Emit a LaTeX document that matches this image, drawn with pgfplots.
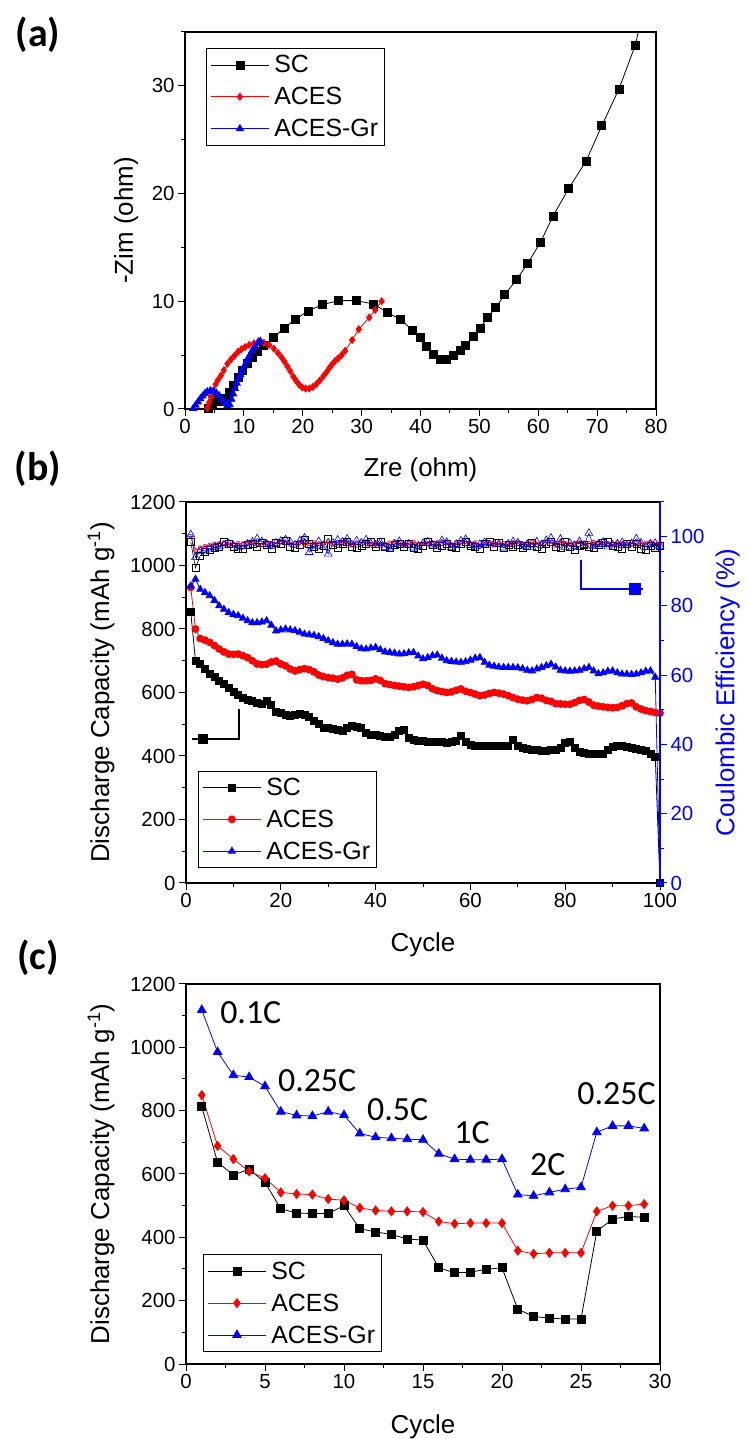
\documentclass[border=0pt]{standalone}
\usepackage{fontspec}
\usepackage{pgfplots}
\usepackage{pgfplotstable}
\pgfplotsset{compat=1.18}
\setmainfont{Liberation Sans}
\newfontfamily\calibri{Carlito}
\newcommand\ticks{\fontsize{20.5}{24}\selectfont}
\newcommand\lab{\fontsize{26}{30}\selectfont}
\newcommand\legf{\fontsize{25}{28}\selectfont}
\newcommand\rate{\calibri\fontsize{34}{36}\selectfont}
\newcommand\plab{\calibri\bfseries\fontsize{40}{42}\selectfont}

\pgfplotstableread{
x y
4.0 0.05
4.6 0.5
5.3 0.85
6.1 0.75
6.9 0.95
7.6 1.5
8.3 2.2
9.0 2.9
9.8 3.6
10.6 4.2
11.4 4.8
12.3 5.3
13.4 5.9
15.0 6.6
16.8 7.5
18.7 8.3
20.9 9.1
23.4 9.7
26.1 10.06
29.1 10.06
32.0 9.75
34.3 9.0
36.6 8.3
38.7 7.3
40.0 6.6
41.0 5.8
42.2 5.1
43.3 4.6
44.4 4.6
45.6 4.95
46.7 5.4
47.7 5.9
49.0 6.7
50.1 7.5
51.4 8.5
52.8 9.45
54.3 10.6
56.3 12.0
58.2 13.5
60.4 15.5
62.5 17.9
65.2 20.5
68.1 23.0
70.8 26.3
73.7 29.7
76.5 33.8
77.4 36.0
}\eisSC
\pgfplotstableread{
x y
3.8 0.1
4.1 0.6
4.4 1.1
4.8 1.7
5.2 2.3
5.6 2.7
6.1 3.1
6.6 3.6
7.2 4.2
7.8 4.6
8.4 4.95
9.0 5.3
9.6 5.55
10.2 5.75
10.9 5.95
11.7 6.1
12.5 6.3
13.4 6.15
14.3 5.95
15.1 5.6
15.8 5.2
16.4 4.8
16.9 4.4
17.4 3.95
17.9 3.5
18.4 3.0
18.9 2.6
19.4 2.25
19.9 2.0
20.5 1.9
21.1 1.9
21.7 2.05
22.3 2.3
22.9 2.65
23.5 3.05
24.0 3.4
24.5 3.8
25.0 4.15
25.5 4.45
26.0 4.7
26.6 5.0
27.2 5.4
28.4 6.4
29.5 7.4
31.3 8.5
32.3 9.2
33.4 10.0
}\eisACES
\pgfplotstableread{
x y
1.4 0.05
1.8 0.35
2.2 0.65
2.6 0.95
3.0 1.2
3.4 1.45
3.8 1.6
4.3 1.7
4.8 1.65
5.3 1.5
5.8 1.25
6.3 0.9
6.8 0.55
7.2 0.3
7.6 0.4
7.9 0.9
8.2 1.4
8.5 1.9
8.8 2.4
9.1 2.8
9.4 3.2
9.7 3.6
10.1 4.0
10.5 4.5
10.9 4.9
11.4 5.4
11.9 5.8
12.4 6.1
12.8 6.3
}\eisGR

\pgfplotstableread{
c sc aces gr cesc ceaces cegr
1 854 931 935 98.5 100.2 100.6
2 700 800 957 91.0 96.0 94.0
3 690 770 925 94.5 96.8 95.8
4 675 765 915 95.5 97.2 96.1
5 660 758 905 96.2 97.6 96.5
6 648 748 890 96.8 97.9 96.9
7 636 737 873 97.0 98.0 97.2
8 626 728 862 98.6 98.2 97.6
9 615 721 852 97.8 97.7 98.0
10 603 720 846 97.2 97.9 97.4
11 592 721 842 96.6 98.1 96.9
12 584 716 834 96.4 97.8 97.3
13 578 710 826 97.5 98.3 97.9
14 573 700 820 97.9 98.5 98.5
15 566 690 820 97.0 98.0 99.4
16 563 688 822 98.2 97.6 98.6
17 575 689 826 97.6 98.4 97.8
18 560 696 812 96.5 98.1 97.3
19 540 699 794 98.3 97.9 98.2
20 535 690 797 97.8 98.6 98.7
21 528 684 800 98.8 98.2 99.1
22 526 674 797 97.1 97.8 98.4
23 528 668 795 96.9 98.1 97.6
24 533 672 790 97.6 98.4 98.8
25 530 675 784 99.2 97.7 99.6
26 522 672 782 98.0 98.0 95.5
27 510 665 780 97.0 98.3 97.1
28 500 655 776 96.4 97.9 98.6
29 490 650 770 97.3 98.2 97.4
30 487 647 763 99.5 98.5 95.0
31 485 645 757 97.6 97.8 98.2
32 482 642 752 96.8 98.1 99.0
33 480 646 752 97.8 98.4 98.5
34 488 654 753 98.5 98.0 99.3
35 496 657 752 97.2 97.6 97.6
36 492 640 745 96.9 98.2 98.8
37 488 637 738 97.3 98.5 98.2
38 472 637 737 97.9 98.1 99.1
39 468 638 740 98.4 97.8 98.0
40 465 643 742 97.1 98.3 97.5
41 463 638 735 98.6 97.5 98.3
42 460 628 728 97.2 97.9 97.0
43 460 625 726 96.8 98.2 96.5
44 465 622 724 97.5 98.6 97.8
45 478 620 721 97.9 98.0 98.6
46 482 618 722 97.0 97.7 97.4
47 458 616 725 98.0 98.1 97.9
48 452 618 726 96.9 98.4 96.8
49 449 622 715 96.5 97.9 97.2
50 446 626 706 97.4 98.2 98.1
51 444 622 710 98.4 98.0 98.5
52 443 612 716 97.6 97.8 97.6
53 443 606 718 96.9 98.3 97.3
54 443 603 708 97.4 98.6 98.9
55 442 600 700 98.0 98.1 98.4
56 443 602 698 97.1 97.7 96.9
57 448 607 696 96.8 98.2 97.8
58 462 611 695 97.8 98.5 98.8
59 445 604 697 98.6 98.0 99.2
60 436 600 702 97.3 97.9 97.5
61 432 595 708 97.0 98.3 97.1
62 431 590 710 96.5 97.6 97.8
63 431 592 695 97.8 98.1 98.3
64 432 597 686 98.4 98.4 97.6
65 431 600 683 97.1 97.8 98.0
66 432 598 680 98.2 98.2 97.7
67 432 595 679 96.9 98.0 96.8
68 433 590 679 97.5 97.7 97.9
69 452 584 679 97.0 98.3 98.6
70 433 579 678 97.6 98.5 98.2
71 424 576 675 96.8 97.9 97.2
72 421 574 670 97.4 98.1 97.8
73 419 578 668 98.1 98.4 96.9
74 418 584 674 97.0 97.8 98.5
75 417 582 679 96.6 98.2 97.6
76 417 575 684 97.9 98.6 98.9
77 418 572 689 98.5 98.0 99.6
78 418 565 680 97.2 97.7 97.4
79 426 564 670 96.7 98.3 99.3
80 440 563 668 98.4 98.1 96.9
81 445 563 667 97.1 97.8 98.1
82 425 568 668 96.3 98.2 97.3
83 413 575 670 97.3 98.5 98.6
84 410 578 675 97.7 97.9 97.5
85 408 570 679 97.0 98.1 101.0
86 406 560 668 96.9 98.4 97.2
87 407 557 659 97.5 97.8 97.8
88 408 555 662 98.3 98.2 98.4
89 418 553 667 98.6 98.0 97.1
90 430 552 668 97.4 97.7 97.6
91 433 553 662 97.1 98.3 97.9
92 432 558 658 96.6 98.1 98.3
93 428 565 658 97.9 97.9 97.4
94 424 567 657 97.2 98.4 98.0
95 422 555 658 97.8 98.0 99.4
96 418 548 662 96.4 97.8 98.2
97 415 543 667 96.1 98.2 97.0
98 408 540 668 97.4 98.5 97.8
99 398 537 648 96.9 97.9 98.1
100 0 535 0 97.3 98.1 97.3
}\cyc

\pgfplotstableread{
c sc aces gr
1 812 849 1118
2 637 689 985
3 597 647 912
4 615 608 906
5 573 587 877
6 490 542 797
7 477 537 785
8 475 535 783
9 475 521 797
10 500 517 786
11 427 493 728
12 417 485 716
13 409 482 713
14 395 482 710
15 391 480 708
16 304 450 664
17 288 443 647
18 290 445 645
19 299 445 645
20 304 445 647
21 173 358 535
22 150 348 531
23 145 351 542
24 142 351 552
25 142 351 558
26 419 482 732
27 458 500 752
28 466 500 752
29 463 505 744
}\rates

\pgfplotsset{
  orig/.style={
    scale only axis,
    axis line style={line width=1.1bp},
    tick style={black, line width=1bp},
    tick align=outside,
    major tick length=7bp, minor tick length=4bp,
    xtick pos=bottom, ytick pos=left,
    tick label style={font=\ticks},
    label style={font=\lab},
    /pgf/number format/assume math mode=true,
    /pgf/number format/set thousands separator={},
    scaled ticks=false,
    legend cell align=left,
    legend style={draw=black, line width=1bp, font=\legf, inner xsep=4bp, inner ysep=5bp,
      row sep=9bp, fill=white, /tikz/every odd column/.append style={column sep=3bp}},
    legend image code/.code={\draw[##1, mark repeat=2, mark phase=2] plot coordinates {(0bp,0bp) (29bp,0bp) (58bp,0bp)};},
  },
  sq/.style={black, line width=0.8bp, mark=square*, mark size=3.5bp},
  di/.style={red, line width=0.8bp, mark=diamond*, mark size=3.5bp},
  ci/.style={red, line width=0.8bp, mark=*, mark size=3.5bp},
  tr/.style={blue, line width=0.8bp, mark=triangle*, mark size=4bp},
}

\begin{document}
\begin{tikzpicture}
\useasboundingbox (0bp,0bp) rectangle (748bp,1439bp);

\node[font=\plab] at (38bp,1404bp) {(a)};
\node[font=\plab] at (38bp,970bp) {(b)};
\node[font=\plab] at (38bp,481bp) {(c)};

% ---------- (a)
\begin{axis}[orig, at={(185bp,1030bp)}, anchor=south west,
  width=471bp, height=377bp,
  xmin=0, xmax=80, ymin=0, ymax=35,
  xtick={0,10,...,80}, minor xtick={5,15,...,75},
  ytick={0,10,20,30}, minor ytick={5,15,25,35},
  xlabel={Zre (ohm)}, ylabel={-Zim (ohm)},
  xlabel style={at={(axis description cs:0.5,-0.162)}, anchor=center},
  ylabel style={at={(axis description cs:-0.125,0.5)}, anchor=center},
  legend style={at={(0.0446,0.9576)}, anchor=north west}]
\addplot[sq, mark size=4bp] table[x=x,y=y] {\eisSC};
\addlegendentry{SC}
\addplot[di, mark size=3.5bp] table[x=x,y=y] {\eisACES};
\addlegendentry{ACES}
\addplot[tr] table[x=x,y=y] {\eisGR};
\addlegendentry{ACES-Gr}
\end{axis}

% ---------- (b) left
\begin{axis}[orig, at={(186bp,556bp)}, anchor=south west,
  width=474bp, height=381bp,
  xmin=0, xmax=100, ymin=0, ymax=1200,
  xtick={0,20,...,100}, minor xtick={10,30,...,90},
  ytick={0,200,...,1200}, minor ytick={100,300,...,1100},
  xlabel={Cycle}, ylabel={Discharge Capacity (mAh g\textsuperscript{-1})},
  xlabel style={at={(axis description cs:0.5,-0.163)}, anchor=center},
  ylabel style={at={(axis description cs:-0.179,0.5)}, anchor=center},
  legend style={at={(0.0253,0.039)}, anchor=south west}]
\addplot[sq] table[x=c,y=sc] {\cyc};
\addlegendentry{SC}
\addplot[ci] table[x=c,y=aces] {\cyc};
\addlegendentry{ACES}
\addplot[tr] table[x=c,y=gr] {\cyc};
\addlegendentry{ACES-Gr}
\addplot[black, line width=2bp, mark=square*, mark size=4bp, mark indices={3}, forget plot]
  coordinates {(11.1,548) (11.1,453) (3.5,453) (1.2,453)};
\addplot[blue, line width=2.5bp, mark=square*, mark size=4.5bp, mark indices={3}, forget plot]
  coordinates {(83.3,1017) (83.3,926) (94.7,926) (96.5,926)};
\end{axis}

% ---------- (b) right
\begin{axis}[scale only axis, at={(186bp,556bp)}, anchor=south west,
  width=474bp, height=381bp,
  xmin=0, xmax=100, ymin=0, ymax=110,
  axis x line=none, axis y line*=right,
  y axis line style={blue, line width=1.1bp},
  tick style={blue, line width=1bp}, tick align=outside,
  major tick length=7bp, minor tick length=4bp,
  ytick={0,20,...,100}, minor ytick={10,30,...,110},
  yticklabel style={font=\ticks, text=blue},
  /pgf/number format/assume math mode=true,
  ylabel={Coulombic Efficiency (\%)},
  ylabel style={font=\lab, text=blue, at={(axis description cs:1.143,0.5)}, anchor=center}]
\addplot[black, line width=0.6bp, mark=square, mark size=3.5bp] table[x=c,y=cesc] {\cyc};
\addplot[red, line width=0.6bp, mark=o, mark size=2bp] table[x=c,y=ceaces] {\cyc};
\addplot[blue, line width=0.6bp, mark=triangle, mark size=4.5bp] table[x=c,y=cegr] {\cyc};
\end{axis}

% ---------- (c)
\begin{axis}[orig, at={(186bp,75bp)}, anchor=south west,
  width=474bp, height=380bp,
  xmin=0, xmax=30, ymin=0, ymax=1200,
  xtick={0,5,...,30}, minor xtick={2.5,7.5,...,27.5},
  ytick={0,200,...,1200}, minor ytick={100,300,...,1100},
  xlabel={Cycle}, ylabel={Discharge Capacity (mAh g\textsuperscript{-1})},
  xlabel style={at={(axis description cs:0.5,-0.166)}, anchor=center},
  ylabel style={at={(axis description cs:-0.179,0.5)}, anchor=center},
  legend style={at={(0.036,0.0316)}, anchor=south west}]
\addplot[sq, mark size=4bp] table[x=c,y=sc] {\rates};
\addlegendentry{SC}
\addplot[di, mark size=4.5bp] table[x=c,y=aces] {\rates};
\addlegendentry{ACES}
\addplot[tr, mark size=5bp] table[x=c,y=gr] {\rates};
\addlegendentry{ACES-Gr}
\node[font=\rate] at (axis cs:4.1,1111) {0.1C};
\node[font=\rate] at (axis cs:8.3,896) {0.25C};
\node[font=\rate] at (axis cs:13.4,802) {0.5C};
\node[font=\rate] at (axis cs:18.1,732) {1C};
\node[font=\rate] at (axis cs:22.9,629) {2C};
\node[font=\rate] at (axis cs:27.25,854) {0.25C};
\end{axis}
\end{tikzpicture}
\end{document}
